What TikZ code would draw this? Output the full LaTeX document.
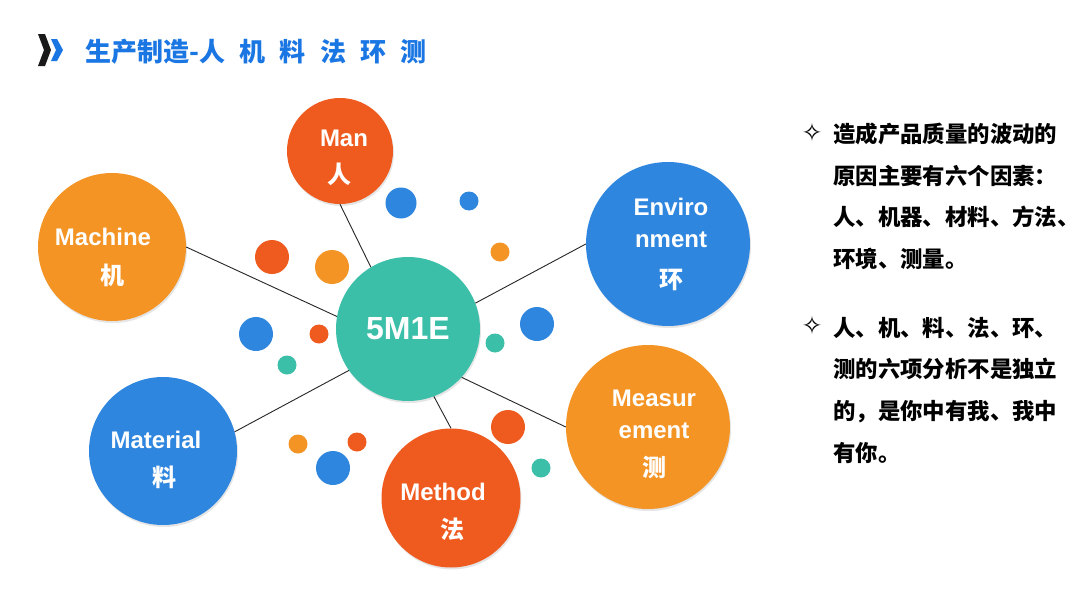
\documentclass[tikz,border=0pt]{standalone}
\usepackage{fontspec}
\setmainfont{Liberation Sans}
\newfontfamily\cjk{Noto Sans CJK SC}
\newfontfamily\titlecjk{Noto Sans CJK SC}[WordSpace=2.4]
\newfontfamily\symfont{DejaVu Sans}
\usetikzlibrary{shadows}
\definecolor{flame}{HTML}{EF5B1F}
\definecolor{amber}{HTML}{F39425}
\definecolor{azure}{HTML}{2E86DF}
\definecolor{jade}{HTML}{3CBFA9}
\definecolor{titleblue}{HTML}{1A76E3}
\tikzset{
 factor/.style={circle,fill=#1,inner sep=0,drop shadow={opacity=.2,shadow xshift=1pt,shadow yshift=-2pt}},
 tag/.style={text=white,inner sep=0,align=center,font=\bfseries\fontsize{24}{32}\selectfont},
 hub/.style={circle,fill=jade,text=white,inner sep=0,minimum size=144pt,font=\bfseries\fontsize{32}{32}\selectfont,drop shadow={opacity=.2,shadow xshift=1pt,shadow yshift=-2pt}},
 spoke/.style={draw=black!85,line width=.9pt},
 note/.style={anchor=north west,inner sep=0,align=left,font=\cjk\bfseries\fontsize{22.4}{41.6}\selectfont},
 star/.style={inner sep=0,font=\symfont\fontsize{25}{25}\selectfont},
 heading/.style={anchor=west,inner sep=0,text=titleblue,font=\titlecjk\bfseries\fontsize{26}{26}\selectfont}
}
\begin{document}
\begin{tikzpicture}[x=1pt,y=-1pt]
\path[use as bounding box,fill=white] (0,0) rectangle (1080,608);
% title
\fill[black!90] (38,34) -- (45,34) -- (51,50) -- (45,66) -- (38,66) -- (44,50) -- cycle;
\fill[titleblue] (51,39) -- (57,39) -- (63,50) -- (57,61) -- (51,61) -- (56,50) -- cycle;
\node[heading] (title) at (85,52) {生产制造-人 机 料 法 环 测};
% small dots
\fill[azure] (401,203) circle (15.5);
\fill[azure] (469,201) circle (9.5);
\fill[flame] (272,257) circle (17);
\fill[amber] (332,267) circle (17);
\fill[amber] (500,252) circle (9.5);
\fill[azure] (256,334) circle (17);
\fill[flame] (319,334) circle (9.5);
\fill[jade] (287,365) circle (9.5);
\fill[azure] (537,324) circle (17);
\fill[jade] (495,343) circle (9.5);
\fill[amber] (298,444) circle (9.5);
\fill[flame] (357,442) circle (9.5);
\fill[azure] (333,468) circle (17);
\fill[flame] (508,427) circle (17);
\fill[jade] (541,468) circle (9.5);
% circles
\node[hub] (core) at (408,329) {5M1E};
\node[factor=flame,minimum size=106pt] (man) at (340,151) {};
\node[factor=amber,minimum size=148pt] (machine) at (112,247) {};
\node[factor=azure,minimum size=164pt] (env) at (668,244) {};
\node[factor=amber,minimum size=164pt] (meas) at (648,427) {};
\node[factor=azure,minimum size=148pt] (material) at (163,451) {};
\node[factor=flame,minimum size=139pt] (method) at (451,498) {};
% labels
\node[tag] (man-tag) at ([shift={(4,7)}]man.center) {Man\\[5pt]{\cjk 人}\hspace*{10pt}};
\node[tag] (machine-tag) at ([shift={(-9,10)}]machine.center) {Machine\\[7pt]\hspace*{18pt}{\cjk 机}};
\node[tag] (env-tag) at ([shift={(3,0)}]env.center) {Enviro\\nment\\[9pt]{\cjk 环}};
\node[tag] (meas-tag) at ([shift={(6,7)}]meas.center) {Measur\\ement\\[6pt]{\cjk 测}};
\node[tag] (material-tag) at ([shift={(-7,9)}]material.center) {Material\\[6pt]\hspace*{18pt}{\cjk 料}};
\node[tag] (method-tag) at ([shift={(-8,14)}]method.center) {Method\\[6pt]\hspace*{18pt}{\cjk 法}};
% spokes
\draw[spoke] (machine.east) -- (core.170);
\draw[spoke] (man.south) -- (core.121);
\draw[spoke] (env.west) -- (core.21);
\draw[spoke] (meas.west) -- (core.-42);
\draw[spoke] (material.15) -- (core.215);
\draw[spoke] (method.north) -- (core.-69);
% notes
\node[star] (star1) at (812,132) {✧};
\node[note] (note1) at (833,123) {造成产品质量的波动的\\原因主要有六个因素：\\人、机器、材料、方法、\\环境、测量。};
\node[star] (star2) at (812,325) {✧};
\node[note] (note2) at (833,317) {人、机、料、法、环、\\测的六项分析不是独立\\的，是你中有我、我中\\有你。};
\end{tikzpicture}
\end{document}
